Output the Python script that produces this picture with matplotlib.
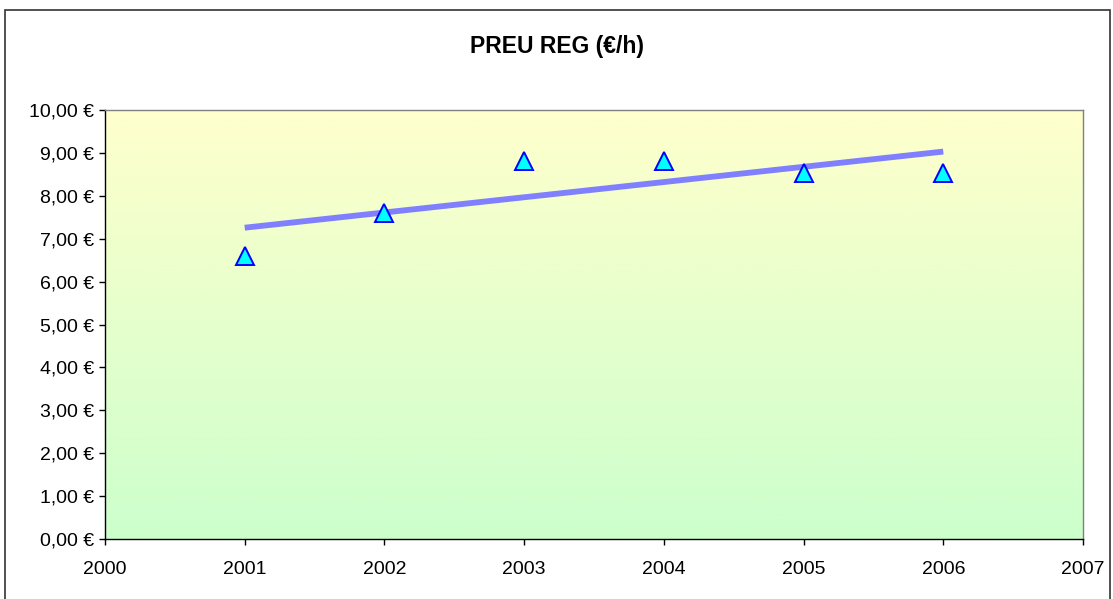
import numpy as np
import matplotlib
matplotlib.use('Agg')
import matplotlib.pyplot as plt
from matplotlib.ticker import MultipleLocator, FuncFormatter
from matplotlib.patches import Rectangle

plt.rcParams['font.family'] = ['Liberation Sans', 'DejaVu Sans']

# data
years = [2001, 2002, 2003, 2004, 2005, 2006]
prices = [6.60, 7.60, 8.80, 8.80, 8.54, 8.52]
title = 'PREU REG (€/h)'

fig = plt.figure(figsize=(11.13, 5.99), dpi=100)
ax = fig.add_axes([105/1113, 60/599, 978/1113, 429/599])

# chart area border
fig.patches.append(Rectangle((5/1113, -0.2), 1105/1113, 1.2 - 10/599,
                             transform=fig.transFigure, fill=False,
                             edgecolor='#333333', lw=1.2, zorder=0))

# gradient plot area: light yellow top -> light green bottom
grad = np.linspace(0, 1, 256).reshape(-1, 1)
top = np.array([1.0, 1.0, 0.80])
bot = np.array([0.80, 1.0, 0.80])
img = top[None, None, :] * (1 - grad[:, :, None]) + bot[None, None, :] * grad[:, :, None]
ax.imshow(img, extent=[0, 1, 0, 1], transform=ax.transAxes, aspect='auto', zorder=0)

# linear trend line from data
p = np.polyfit(years, prices, 1)
tx = np.array([years[0], years[-1]])
ax.plot(tx, np.polyval(p, tx), color='#8080FF', lw=4.2, solid_capstyle='butt', zorder=2)

ax.plot(years, prices, linestyle='none', marker='^', ms=13.5,
        mfc='#00FFFF', mec='#0000FF', mew=1.4, zorder=3)

ax.set_xlim(2000, 2007)
ax.set_ylim(0, 10)
ax.xaxis.set_major_locator(MultipleLocator(1))
ax.yaxis.set_major_locator(MultipleLocator(1))
ax.yaxis.set_major_formatter(FuncFormatter(lambda v, pos: ('%.2f €' % v).replace('.', ',')))

for s in ['top', 'right']:
    ax.spines[s].set_color('#808080')
for s in ['left', 'bottom']:
    ax.spines[s].set_color('black')
for s in ax.spines.values():
    s.set_linewidth(1.0)

ax.tick_params(axis='both', direction='out', length=4, width=1, labelsize=14, pad=4)
ax.tick_params(axis='x', pad=12)

fig.text(557/1113, 1 - 46/599, title, ha='center', va='center',
         fontsize=16.5, fontweight='bold')

fig.savefig('out.png', dpi=100)
